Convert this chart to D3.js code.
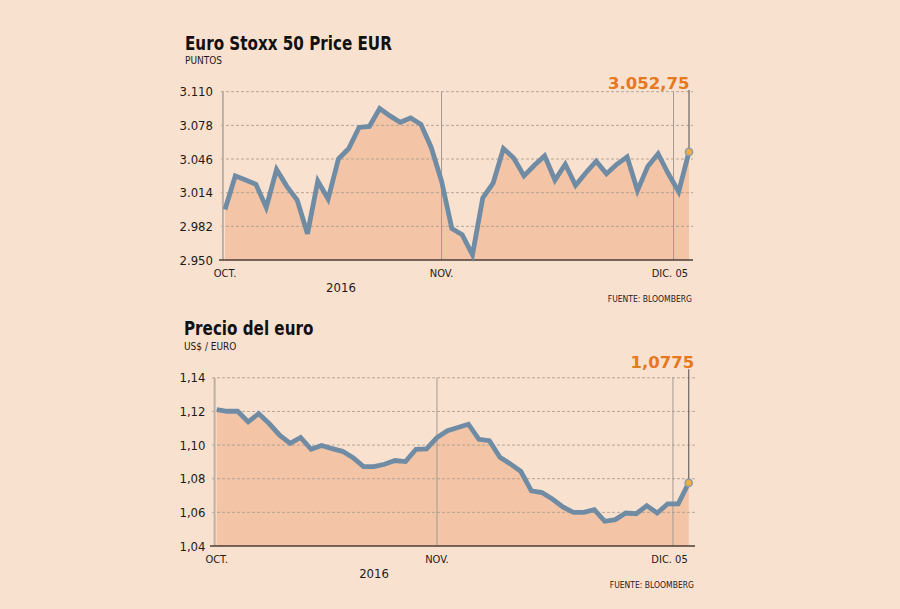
<!DOCTYPE html>
<html>
<head>
<meta charset="utf-8">
<script src="https://cdn.jsdelivr.net/npm/d3@7/dist/d3.min.js"></script>
<style>
  html, body { margin: 0; padding: 0; background: #f9e1d0; }
  svg { display: block; }
  .sm { font-family: "DejaVu Sans Condensed", "DejaVu Sans", sans-serif; font-stretch: condensed; fill: #1e1a18; }
  .ttl { font-family: "DejaVu Sans Condensed", "DejaVu Sans", sans-serif; font-stretch: condensed; font-weight: bold; fill: #111; }
  .val { font-family: "DejaVu Sans", sans-serif; font-weight: bold; fill: #e6781e; }
</style>
</head>
<body>
<svg id="chart" width="900" height="609"></svg>
<script>
// trading days 3 oct - 5 dic 2016
var stoxxValues = [2998, 3030, 3026, 3022, 3000, 3036, 3020, 3007, 2975, 3025,
                   3008, 3046, 3056, 3076, 3077, 3094, 3087, 3081, 3085, 3079,
                   3057, 3025, 2980, 2974, 2955, 3009, 3023, 3056, 3047, 3030,
                   3040, 3049, 3026, 3041, 3021, 3033, 3044, 3032, 3041, 3048,
                   3016, 3039, 3051, 3032, 3015, 3052.75];
var euroValues = [1.1211, 1.1201, 1.1201, 1.1138, 1.1187, 1.1128, 1.1059, 1.1010, 1.1045, 1.0975,
                  1.0998, 1.0979, 1.0963, 1.0925, 1.0872, 1.0872, 1.0886, 1.0908, 1.0902, 1.0975,
                  1.0977, 1.1045, 1.1085, 1.1105, 1.1124, 1.1034, 1.1026, 1.0927, 1.0888, 1.0843,
                  1.0728, 1.0718, 1.0679, 1.0632, 1.0600, 1.0600, 1.0616, 1.0547, 1.0557, 1.0596,
                  1.0592, 1.0640, 1.0596, 1.0651, 1.0651, 1.0775];

var stoxxTicks = [2950, 2982, 3014, 3046, 3078, 3110];
var stoxxTickLabels = ["2.950", "2.982", "3.014", "3.046", "3.078", "3.110"];
var euroTicks = [1.04, 1.06, 1.08, 1.10, 1.12, 1.14];
var euroTickLabels = ["1,04", "1,06", "1,08", "1,10", "1,12", "1,14"];

var monthIdx = [-0.2, 21, 43.5];          // day index of month lines
var monthLabels = ["OCT.", "NOV.", "DIC. 05"];

var svg = d3.select('#chart');

function drawChart(c)
{
	var n = c.values.length;
	var x = d3.scaleLinear().domain([0, n - 1]).range([c.x0, c.x1]);
	var y = d3.scaleLinear().domain([c.ticks[0], c.ticks[c.ticks.length - 1]]).range([c.yBot, c.yTop]);
	var g = svg.append('g');

	// headline font is narrower than anything installed, squeeze it
	g.append('text').attr('class', 'ttl')
		.attr('transform', 'translate(' + c.titleX + ',' + c.titleY + ') scale(0.865,1)')
		.style('font-size', '19.5px').text(c.title);
	g.append('text').attr('class', 'sm').attr('x', c.titleX).attr('y', c.titleY + 14.5)
		.style('font-size', '10px').text(c.unit);

	// area under the line
	var area = d3.area()
		.x(function (d, i) { return x(i); })
		.y0(y(c.ticks[0]))
		.y1(function (d) { return y(d); });
	g.append('path').datum(c.values).attr('d', area).attr('fill', '#f3c4a5');

	// dashed gridlines
	g.selectAll('.grid').data(c.ticks.slice(1)).enter()
		.append('line')
		.attr('x1', c.axisL).attr('x2', c.axisR)
		.attr('y1', function (d) { return y(d); }).attr('y2', function (d) { return y(d); })
		.attr('stroke', '#ad9f92').attr('stroke-width', 0.9).attr('stroke-dasharray', '3,2');

	g.selectAll('.ylab').data(c.ticks).enter()
		.append('text').attr('class', 'sm')
		.attr('x', c.labR).attr('y', function (d) { return y(d) + 4.5; })
		.attr('text-anchor', 'end').style('font-size', '13px')
		.text(function (d, i) { return c.tickLabels[i]; });

	// month lines
	g.selectAll('.vline').data(monthIdx).enter()
		.append('line')
		.attr('x1', function (d) { return x(d); }).attr('x2', function (d) { return x(d); })
		.attr('y1', y(c.ticks[c.ticks.length - 1])).attr('y2', y(c.ticks[0]))
		.attr('stroke', function (d, i) { return i == 0 ? '#bcb0a4' : '#a49a92'; })
		.attr('stroke-width', function (d, i) { return i == 0 ? 2 : 1; });

	g.append('line')
		.attr('x1', c.axisL - 2).attr('x2', c.axisR)
		.attr('y1', y(c.ticks[0])).attr('y2', y(c.ticks[0]))
		.attr('stroke', '#4a3c34').attr('stroke-width', 1.6);

	g.selectAll('.xlab').data(monthLabels).enter()
		.append('text').attr('class', 'sm')
		.attr('x', function (d, i) {
			if (i == 0) return x(0);
			if (i == monthLabels.length - 1) return x(n - 1) - 1;
			return x(monthIdx[i]);
		})
		.attr('y', y(c.ticks[0]) + 16.5)
		.attr('text-anchor', function (d, i) { return i == monthLabels.length - 1 ? 'end' : 'middle'; })
		.style('font-size', '11px')
		.text(function (d) { return d; });

	g.append('text').attr('class', 'sm').attr('x', x(c.yearAt)).attr('y', y(c.ticks[0]) + 32)
		.attr('text-anchor', 'middle').style('font-size', '13px').text('2016');
	g.append('text').attr('class', 'sm').attr('x', c.axisR - 1).attr('y', y(c.ticks[0]) + 41.5)
		.attr('text-anchor', 'end').style('font-size', '8.5px').text('FUENTE: BLOOMBERG');

	// the line
	var line = d3.line()
		.x(function (d, i) { return x(i); })
		.y(function (d) { return y(d); });
	g.append('path').datum(c.values).attr('d', line)
		.attr('fill', 'none').attr('stroke', '#6f8ca4')
		.attr('stroke-width', 4.8).attr('stroke-linejoin', 'miter');

	// last value callout
	var last = c.values[n - 1];
	g.append('line')
		.attr('x1', x(n - 1)).attr('x2', x(n - 1))
		.attr('y1', c.valY + 1).attr('y2', y(last))
		.attr('stroke', '#6e6660').attr('stroke-width', 1.2);
	g.append('circle').attr('cx', x(n - 1)).attr('cy', y(last)).attr('r', 3.6)
		.attr('fill', '#f0ae3c').attr('stroke', '#8c9cab').attr('stroke-width', 1.5);
	g.append('text').attr('class', 'val').attr('x', x(n - 1) + c.valDx).attr('y', c.valY)
		.attr('text-anchor', 'end').style('font-size', '16.5px').text(c.valText);
}

drawChart({
	title: 'Euro Stoxx 50 Price EUR', unit: 'PUNTOS',
	values: stoxxValues, ticks: stoxxTicks, tickLabels: stoxxTickLabels,
	valText: '3.052,75',
	titleX: 185, titleY: 49.7,
	x0: 225, x1: 689, yTop: 91.7, yBot: 260,
	axisL: 221, axisR: 693, labR: 213,
	yearAt: 11.25, valY: 89, valDx: 0.5
});

drawChart({
	title: 'Precio del euro', unit: 'US$ / EURO',
	values: euroValues, ticks: euroTicks, tickLabels: euroTickLabels,
	valText: '1,0775',
	titleX: 184, titleY: 335,
	x0: 216.7, x1: 688.7, yTop: 377.8, yBot: 546,
	axisL: 212, axisR: 695, labR: 205.5,
	yearAt: 15, valY: 368.3, valDx: 5.5
});
</script>
</body>
</html>
